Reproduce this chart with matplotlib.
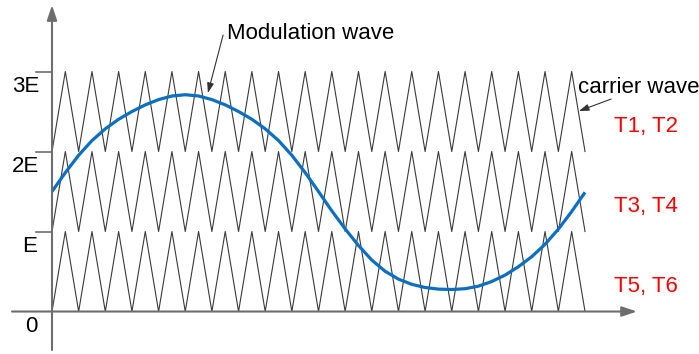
"""
Multilevel PWM diagram: three stacked triangular carriers and one modulation wave.
"""
import matplotlib
matplotlib.use("Agg")
import matplotlib.pyplot as plt
import numpy as np

plt.rcParams["font.family"] = ["Liberation Sans", "DejaVu Sans"]

# --- data (values in units of E, time in carrier periods) ---
CARRIER_LEVELS = [0, 1, 2]          # bottom of each carrier band
CARRIER_PERIODS = 20                # triangles per band
LEVEL_LABELS = ["0", "E", "2E", "3E"]
LEVEL_VALUES = [0, 1, 2, 3]
SWITCH_LABELS = ["T1, T2", "T3, T4", "T5, T6"]

# modulation wave, every half carrier period (t = 0 .. 20)
MOD_STEP = 0.5
MOD_VALUES = [
    1.500, 1.736, 1.953, 2.137, 2.284, 2.403, 2.500, 2.583, 2.649, 2.694,
    2.710, 2.694, 2.649, 2.583, 2.500, 2.403, 2.284, 2.137, 1.953, 1.736,
    1.500, 1.258, 1.033, 0.825, 0.643, 0.503, 0.405, 0.340, 0.300, 0.280,
    0.275, 0.285, 0.317, 0.375, 0.455, 0.560, 0.685, 0.840, 1.030, 1.250,
    1.490,
]

CARRIER_COLOR = "#3a3a3a"
AXIS_COLOR = "#6e6e6e"
MOD_COLOR = "#0b6fc2"
FS = 16


def main() -> None:
    fig = plt.figure(figsize=(6.99, 3.54), dpi=100)
    ax = fig.add_axes([0, 0, 1, 1])
    ax.set_xlim(-1.951, 24.277)
    ax.set_ylim(-0.531, 3.894)
    ax.axis("off")

    # carriers
    t_c = np.arange(0, CARRIER_PERIODS + 0.5, 0.5)
    tri = np.array([0 if i % 2 == 0 else 1 for i in range(len(t_c))], dtype=float)
    for base in CARRIER_LEVELS:
        ax.plot(t_c, base + tri, color=CARRIER_COLOR, lw=0.8, zorder=2)

    # modulation wave
    t_m = np.arange(len(MOD_VALUES)) * MOD_STEP
    ax.plot(t_m, MOD_VALUES, color=MOD_COLOR, lw=2.3, zorder=3,
            solid_capstyle="butt", solid_joinstyle="round")

    # axes with arrows
    arrow = dict(arrowstyle="-|>,head_length=0.9,head_width=0.3", color=AXIS_COLOR,
                 lw=1.5, shrinkA=0, shrinkB=0)
    ax.annotate("", xy=(21.95, 0), xytext=(-1.5, 0), arrowprops=arrow, zorder=4)
    ax.annotate("", xy=(0, 3.831), xytext=(0, -0.481), arrowprops=arrow, zorder=4)

    # level ticks and labels
    for v, lab in zip(LEVEL_VALUES, LEVEL_LABELS):
        if v > 0:
            ax.plot([-0.6, 0], [v, v], color=AXIS_COLOR, lw=1.2, zorder=4)
        xr = -0.49 if len(lab) > 1 else -0.56
        ax.text(xr, v - 0.256, lab, ha="right", va="baseline", fontsize=FS, color="black")

    # annotations
    thin = dict(arrowstyle="-|>,head_length=0.6,head_width=0.2", color="#333333",
                lw=0.8, shrinkA=0, shrinkB=0)
    ax.text(6.57, 3.406, "Modulation wave", ha="left", va="baseline", fontsize=FS)
    ax.annotate("", xy=(5.85, 2.731), xytext=(6.42, 3.456), arrowprops=thin, zorder=5)
    ax.text(19.74, 2.731, "carrier wave", ha="left", va="baseline", fontsize=FS)
    ax.annotate("", xy=(19.77, 2.506), xytext=(20.98, 2.656), arrowprops=thin, zorder=5)

    # switch pair labels, top band first
    for base, lab in zip(CARRIER_LEVELS[::-1], SWITCH_LABELS):
        ax.text(21.09, base + 0.244, lab, ha="left", va="baseline", fontsize=FS, color="red")

    fig.savefig("out.png", dpi=100, facecolor="white")


if __name__ == "__main__":
    main()
